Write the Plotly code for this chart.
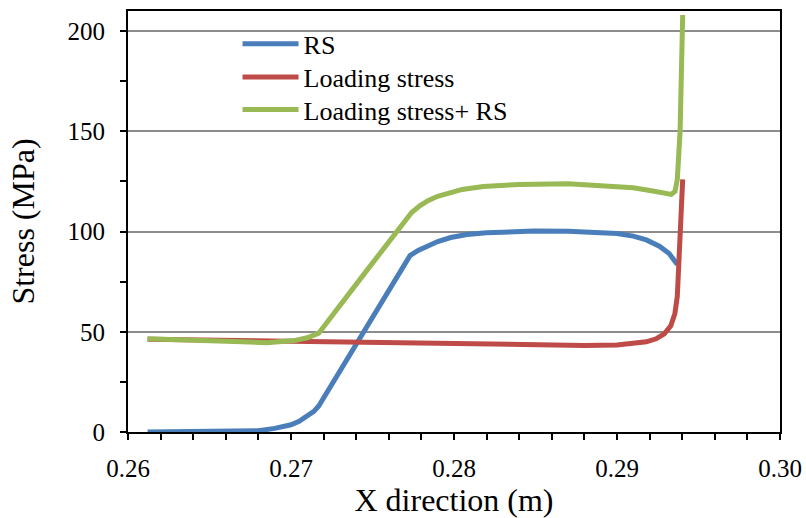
import plotly.graph_objects as go

# ---- data ----
rs_x = [0.2612, 0.2630, 0.2650, 0.2670, 0.2680, 0.2690, 0.2700, 0.2705, 0.2710, 0.2714, 0.2717,
        0.2745, 0.2773, 0.2778, 0.2783, 0.2790, 0.2798, 0.2808, 0.2820, 0.2835, 0.2849, 0.2870,
        0.2890, 0.2900, 0.2910, 0.2918, 0.2926, 0.2932, 0.2937]
rs_y = [0.0, 0.0, 0.0, 0.1, 0.6, 1.8, 3.6, 5.3, 7.8, 10.3, 13.0,
        50.5, 88.0, 90.6, 92.6, 95.0, 97.0, 98.5, 99.4, 99.9, 100.2, 100.1,
        99.7, 99.0, 97.7, 95.8, 92.7, 89.0, 83.5]

ls_x = [0.2612, 0.2650, 0.2700, 0.2750, 0.2800, 0.2850, 0.2880, 0.2900, 0.2910, 0.2918,
        0.2924, 0.2929, 0.2933, 0.29355, 0.2937, 0.29387, 0.29403]
ls_y = [46.3, 45.8, 45.3, 44.8, 44.0, 43.4, 43.2, 43.4, 44.0, 45.0,
        46.5, 49.0, 53.0, 59.0, 67.7, 99.5, 126.0]

tot_x = [0.2612, 0.2650, 0.2670, 0.2685, 0.2695, 0.2702, 0.2710, 0.2717,
         0.2745, 0.2774, 0.2779, 0.2784, 0.2790, 0.2797, 0.2805, 0.2818, 0.2840, 0.2870,
         0.2895, 0.2910, 0.2922, 0.2929, 0.29333, 0.29356, 0.29370, 0.29387, 0.29403]
tot_y = [46.5, 45.8, 45.0, 44.5, 44.8, 45.6, 47.0, 49.3,
         79.0, 109.5, 112.8, 115.4, 117.6, 119.4, 121.0, 122.5, 123.5, 123.8,
         122.8, 121.8, 120.2, 118.8, 118.5, 120.0, 126.0, 150.0, 208.0]

names = ["RS", "Loading stress", "Loading stress+ RS"]
colors = ["#4a7ebb", "#be4b48", "#98b954"]
series = [(rs_x, rs_y), (ls_x, ls_y), (tot_x, tot_y)]
legend_ids = ["legend", "legend2", "legend3"]

FONT = "Liberation Serif, Times New Roman, serif"

fig = go.Figure()
for (xs, ys), n, c, lg in zip(series, names, colors, legend_ids):
    fig.add_trace(go.Scatter(x=xs, y=ys, mode="lines", name=n, legend=lg,
                             line=dict(color=c, width=5)))

def leg(yc):
    return dict(x=0.168, y=yc, xanchor="left", yanchor="middle",
                bgcolor="rgba(0,0,0,0)", font=dict(family=FONT, size=26, color="black"),
                itemwidth=56)

fig.update_layout(
    width=806, height=518,
    margin=dict(l=128, r=26, t=11, b=86, autoexpand=False),
    paper_bgcolor="white", plot_bgcolor="white",
    font=dict(family=FONT, size=25, color="black"),
    showlegend=True,
    legend=leg(0.922), legend2=leg(0.843), legend3=leg(0.766),
)

fig.update_xaxes(
    range=[0.26, 0.30], tickvals=[0.26, 0.27, 0.28, 0.29, 0.30],
    ticktext=["0.26", "0.27", "0.28", "0.29", "0.30"],
    tickfont=dict(family=FONT, size=25, color="black"),
    showgrid=False, zeroline=False, automargin=False,
    showline=True, linecolor="black", linewidth=2, mirror=True,
    ticks="outside", ticklen=6, tickwidth=1.5, tickcolor="black",
    minor=dict(dtick=0.002, ticks="outside", ticklen=6, tickwidth=1.5, tickcolor="black", showgrid=False),
    ticklabelstandoff=7,
    title=dict(text="X direction (m)", font=dict(family=FONT, size=32, color="black"), standoff=2),
)
fig.update_yaxes(
    range=[0, 210], tickvals=[0, 50, 100, 150, 200],
    tickfont=dict(family=FONT, size=25, color="black"),
    showgrid=True, gridcolor="#8c8c8c", gridwidth=1.5, zeroline=False, automargin=False,
    showline=True, linecolor="black", linewidth=2, mirror=True,
    ticks="outside", ticklen=6, tickwidth=1.5, tickcolor="black",
    minor=dict(dtick=25, ticks="outside", ticklen=6, tickwidth=1.5, tickcolor="black", showgrid=False),
    ticklabelstandoff=10,
    title=dict(text="Stress (MPa)", font=dict(family=FONT, size=32, color="black"), standoff=23),
)

fig.write_html("out.html", config={"displayModeBar": False},
               post_script="document.body.style.margin='0';")
